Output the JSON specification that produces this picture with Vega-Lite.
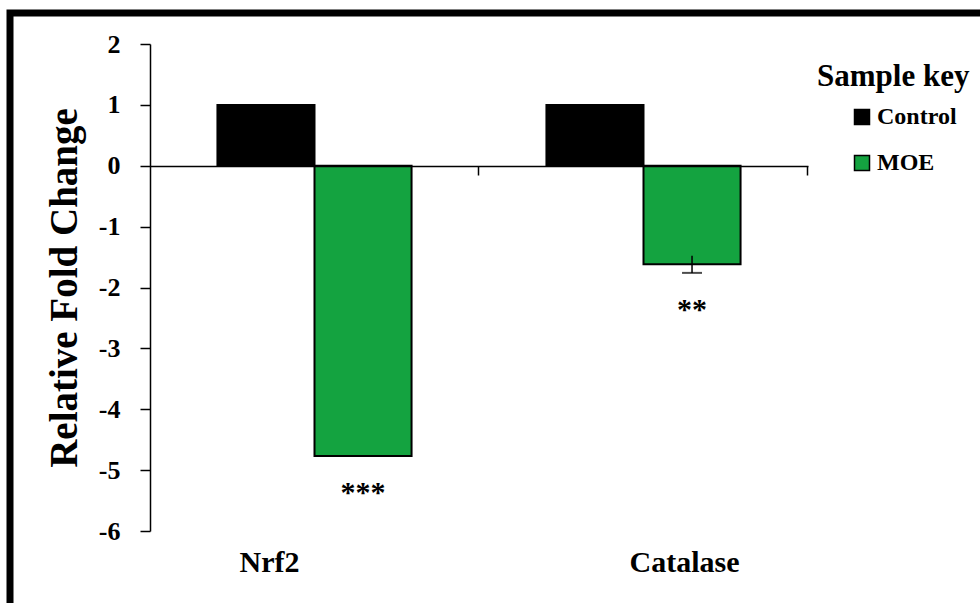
{
  "$schema": "https://vega.github.io/schema/vega-lite/v6.json",
  "width": 975,
  "height": 595,
  "autosize": "none",
  "padding": {"left": 10, "top": 13, "right": -5, "bottom": -5},
  "background": "white",
  "config": {"view": {"stroke": "black", "strokeWidth": 7}, "font": "Liberation Serif"},
  "data": {
    "values": [
      {"gene": "Nrf2", "sample": "Control", "value": 1},
      {"gene": "Nrf2", "sample": "MOE", "value": -4.77, "sig": "***", "sig_at": -4.77},
      {"gene": "Catalase", "sample": "Control", "value": 1},
      {"gene": "Catalase", "sample": "MOE", "value": -1.62, "low": -1.48, "high": -1.76, "sig": "**", "sig_at": -1.76}
    ]
  },
  "layer": [
    {
      "mark": {"type": "bar", "stroke": "black", "strokeWidth": 2},
      "encoding": {
        "x": {
          "field": "gene", "type": "nominal", "sort": ["Nrf2", "Catalase"],
          "scale": {"range": [140, 798], "paddingInner": 0.41, "paddingOuter": 0.205},
          "axis": {
            "orient": "bottom", "offset": -77, "domain": false, "ticks": false, "labelAngle": 0, "title": null,
            "labelFont": "Liberation Serif", "labelFontWeight": "bold", "labelFontSize": 30,
            "labelColor": "black", "labelPadding": 16,
            "labelOffset": {"condition": {"test": "datum.value === 'Nrf2'", "value": -45}, "value": 41}
          }
        },
        "xOffset": {"field": "sample", "type": "nominal", "sort": ["Control", "MOE"], "scale": {"paddingInner": 0, "paddingOuter": 0}},
        "y": {
          "field": "value", "type": "quantitative", "title": "Relative Fold Change",
          "scale": {"domain": [-6, 2], "range": [518, 31], "nice": false, "zero": false},
          "axis": {
            "orient": "left", "offset": -140,
            "values": [-6, -5, -4, -3, -2, -1, 0, 1, 2], "labelExpr": "toString(datum.value)", "grid": false,
            "domainColor": "black", "domainWidth": 1.5, "tickColor": "black", "tickWidth": 1.5, "tickSize": 10,
            "labelFont": "Liberation Serif", "labelFontWeight": "bold", "labelFontSize": 26, "labelColor": "black",
            "labelPadding": 20, "labelFlush": false,
            "titleFont": "Liberation Serif", "titleFontWeight": "bold", "titleFontSize": 39, "titleColor": "black",
            "titlePadding": 14
          }
        },
        "color": {
          "field": "sample", "type": "nominal",
          "scale": {"domain": ["Control", "MOE"], "range": ["#000000", "#14a340"]},
          "legend": {
            "orient": "none", "legendX": 807, "legendY": 49,
            "title": "Sample key", "titleFont": "Liberation Serif", "titleFontWeight": "bold", "titleFontSize": 31,
            "titleColor": "black", "titlePadding": 12,
            "labelFont": "Liberation Serif", "labelFontWeight": "bold", "labelFontSize": 24, "labelColor": "black",
            "labelOffset": 3,
            "symbolType": "square", "symbolSize": 225, "symbolStrokeColor": "black", "symbolStrokeWidth": 1.5,
            "symbolOffset": 33, "rowPadding": 22
          }
        }
      }
    },
    {
      "transform": [{"filter": "isValid(datum.low)"}],
      "mark": {"type": "rule", "color": "black", "strokeWidth": 1.5},
      "encoding": {
        "x": {"field": "gene", "type": "nominal", "sort": ["Nrf2", "Catalase"], "axis": null},
        "xOffset": {"field": "sample", "type": "nominal", "sort": ["Control", "MOE"]},
        "y": {"field": "low", "type": "quantitative", "title": "Relative Fold Change"},
        "y2": {"field": "high"}
      }
    },
    {
      "transform": [{"filter": "isValid(datum.high)"}],
      "mark": {"type": "tick", "color": "black", "thickness": 2, "size": 20, "orient": "horizontal"},
      "encoding": {
        "x": {"field": "gene", "type": "nominal", "sort": ["Nrf2", "Catalase"], "axis": null},
        "xOffset": {"field": "sample", "type": "nominal", "sort": ["Control", "MOE"]},
        "y": {"field": "high", "type": "quantitative", "title": "Relative Fold Change"}
      }
    },
    {
      "transform": [{"filter": "isValid(datum.sig)"}],
      "mark": {"type": "text", "font": "Liberation Serif", "fontWeight": "bold", "fontSize": 30, "baseline": "middle", "dy": 37, "color": "black"},
      "encoding": {
        "x": {
          "field": "gene", "type": "nominal", "sort": ["Nrf2", "Catalase"],
          "axis": {
            "orient": "bottom", "offset": -442, "labels": false, "title": null, "zindex": 1,
            "domainColor": "black", "domainWidth": 1.5, "tickColor": "black", "tickWidth": 1.5, "tickSize": 9,
            "bandPosition": 1.347
          }
        },
        "xOffset": {"field": "sample", "type": "nominal", "sort": ["Control", "MOE"]},
        "y": {"field": "sig_at", "type": "quantitative", "title": "Relative Fold Change"},
        "text": {"field": "sig"}
      }
    }
  ],
  "resolve": {"axis": {"x": "independent"}}
}
